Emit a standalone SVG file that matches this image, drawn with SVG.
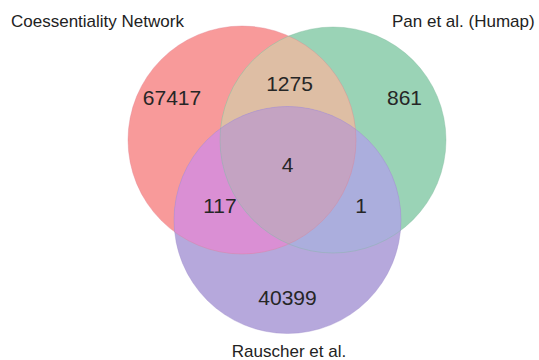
<svg xmlns="http://www.w3.org/2000/svg" width="539" height="360" viewBox="0 0 539 360">
<style>
.lbl{font-family:"Liberation Sans",Arial,sans-serif;font-size:17px;fill:#222}
.num{font-family:"Liberation Sans",Arial,sans-serif;font-size:21px;fill:#262626;text-anchor:middle}
.edge{fill:none;stroke-width:1}
</style>
<defs>
<circle id="cR" cx="242" cy="140" r="114"/>
<circle id="cG" cx="333" cy="140" r="113"/>
<circle id="cP" cx="287.5" cy="220" r="113.5"/>
<clipPath id="clipR"><use href="#cR"/></clipPath>
<clipPath id="clipG"><use href="#cG"/></clipPath>
</defs>
<rect width="539" height="360" fill="#fff"/>
<g id="set-coessentiality">
<use href="#cR" fill="#F89A9A"/>
<text class="lbl" x="11" y="27">Coessentiality Network</text>
</g>
<g id="set-pan">
<use href="#cG" fill="#9AD3B6"/>
<text class="lbl" x="392" y="27">Pan et al. (Humap)</text>
</g>
<g id="set-rauscher">
<use href="#cP" fill="#B6A8DC"/>
<text class="lbl" x="289" y="357" text-anchor="middle">Rauscher et al.</text>
</g>
<g id="overlaps">
<use href="#cG" fill="#DEBEA4" clip-path="url(#clipR)"/>
<use href="#cP" fill="#DA8FD4" clip-path="url(#clipR)"/>
<use href="#cP" fill="#ABAEDD" clip-path="url(#clipG)"/>
<g clip-path="url(#clipR)"><use href="#cP" fill="#C4A3C2" clip-path="url(#clipG)"/></g>
</g>
<g id="outlines">
<use href="#cR" class="edge" stroke="#E07F90" stroke-opacity="0.35"/>
<use href="#cG" class="edge" stroke="#7FB89A" stroke-opacity="0.35"/>
<use href="#cP" class="edge" stroke="#9A88C8" stroke-opacity="0.35"/>
</g>
<g id="counts">
<text class="num" x="172" y="105">67417</text>
<text class="num" x="289.5" y="91">1275</text>
<text class="num" x="404.5" y="105">861</text>
<text class="num" x="287.5" y="172">4</text>
<text class="num" x="220" y="213">117</text>
<text class="num" x="361" y="213">1</text>
<text class="num" x="287.5" y="305">40399</text>
</g>
</svg>
